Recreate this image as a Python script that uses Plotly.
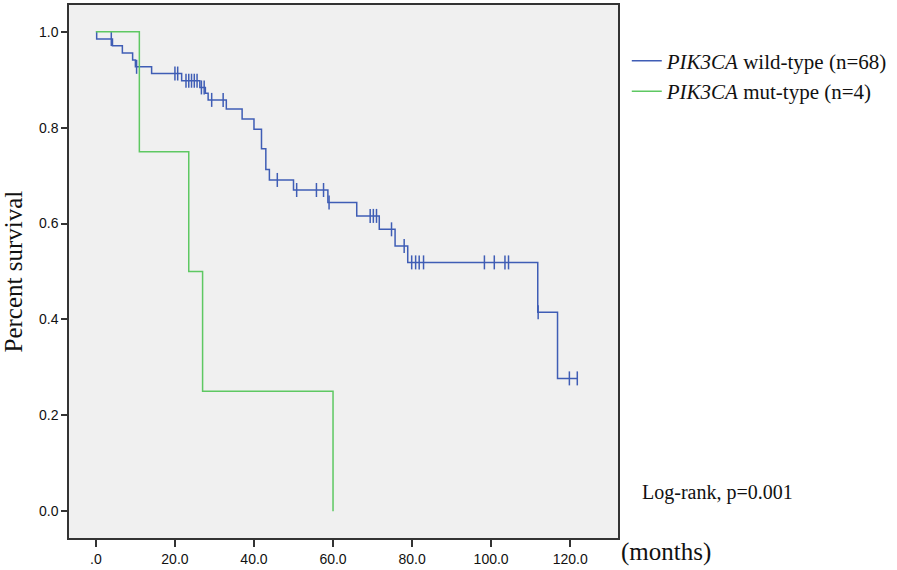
import plotly.graph_objects as go

# Wild-type (n=68): event times (months) and survival after each event
wt_event_times = [0.2, 4.2, 6.7, 9.3, 10.0, 14.1, 21.7, 26.3, 27.7, 28.4, 33.0, 37.0, 40.0,
                  41.9, 43.0, 43.9, 50.0, 58.7, 66.0, 71.7, 75.7, 78.9, 111.8, 116.8]
wt_surv = [0.985, 0.971, 0.956, 0.941, 0.927, 0.913, 0.898, 0.884, 0.872, 0.858, 0.839, 0.818,
           0.797, 0.756, 0.713, 0.691, 0.670, 0.644, 0.616, 0.588, 0.553, 0.519, 0.415, 0.277]
wt_censor_times = [3.9, 10.3, 20.0, 20.7, 22.8, 23.5, 24.2, 24.9, 25.6, 26.7, 27.4, 29.3, 32.2,
                   45.9, 50.8, 55.8, 57.6, 59.0, 69.4, 70.2, 71.0, 74.8, 78.0, 79.9, 80.9, 81.8,
                   82.9, 98.3, 100.8, 103.5, 104.4, 111.9, 119.8, 121.8]
wt_end = 121.8

# Mutant (n=4)
mut_event_times = [11.0, 23.5, 27.0, 60.0]
mut_surv = [0.75, 0.50, 0.25, 0.0]
mut_end = 60.0

x_tick_vals = [0, 20, 40, 60, 80, 100, 120]
x_tick_text = [".0", "20.0", "40.0", "60.0", "80.0", "100.0", "120.0"]
y_tick_vals = [0.0, 0.2, 0.4, 0.6, 0.8, 1.0]
y_tick_text = ["0.0", "0.2", "0.4", "0.6", "0.8", "1.0"]

BLUE = "#3f5db5"
GREEN = "#5ec862"


def step_xy(times, surv, end):
    xs, ys = [0.0], [1.0]
    prev = 1.0
    for t, s in zip(times, surv):
        xs += [t, t]
        ys += [prev, s]
        prev = s
    if end > xs[-1]:
        xs.append(end)
        ys.append(prev)
    return xs, ys


def surv_at(t, times, surv):
    s = 1.0
    for et, es in zip(times, surv):
        if et <= t:
            s = es
    return s


fig = go.Figure()
wx, wy = step_xy(wt_event_times, wt_surv, wt_end)
mx, my = step_xy(mut_event_times, mut_surv, mut_end)

fig.add_trace(go.Scatter(x=wx, y=wy, mode="lines", line=dict(color=BLUE, width=1.5),
                         name="<i>PIK3CA</i> wild-type (n=68)"))
fig.add_trace(go.Scatter(x=wt_censor_times,
                         y=[surv_at(t, wt_event_times, wt_surv) for t in wt_censor_times],
                         mode="markers", showlegend=False,
                         marker=dict(symbol="line-ns", size=10, line=dict(color=BLUE, width=1.5))))
fig.add_trace(go.Scatter(x=mx, y=my, mode="lines", line=dict(color=GREEN, width=1.5),
                         name="<i>PIK3CA</i> mut-type (n=4)"))

fig.update_layout(
    width=897, height=570,
    margin=dict(l=69, r=279, t=3, b=28),
    paper_bgcolor="white", plot_bgcolor="#f0f0f0",
    font=dict(family="Liberation Sans, Arial", size=13, color="#111"),
    legend=dict(x=1.016, y=0.933, xanchor="left", yanchor="top",
                font=dict(family="Liberation Serif, Times New Roman", size=21, color="#111"),
                bgcolor="rgba(0,0,0,0)"),
    xaxis=dict(range=[-6.8, 132.1], tickvals=x_tick_vals, ticktext=x_tick_text,
               showgrid=False, zeroline=False, showline=True, mirror=True,
               linecolor="#333", linewidth=1.5, ticks="outside", ticklen=7,
               tickcolor="#333", tickwidth=1.5,
               tickfont=dict(family="Liberation Sans, Arial", size=14, color="#111")),
    yaxis=dict(range=[-0.056, 1.056], tickvals=y_tick_vals, ticktext=y_tick_text,
               showgrid=False, zeroline=False, showline=True, mirror=True,
               linecolor="#333", linewidth=1.5, ticks="outside", ticklen=6,
               tickcolor="#333", tickwidth=1.5,
               tickfont=dict(family="Liberation Sans, Arial", size=14, color="#111")),
    annotations=[
        dict(text="Percent survival", xref="paper", yref="paper", x=-0.102, y=0.5,
             xanchor="center", yanchor="middle", textangle=-90, showarrow=False,
             font=dict(family="Liberation Serif, Times New Roman", size=25, color="#111")),
        dict(text="Log-rank, p=0.001", xref="paper", yref="paper", x=1.04, y=0.085,
             xanchor="left", yanchor="middle", showarrow=False,
             font=dict(family="Liberation Serif, Times New Roman", size=20, color="#111")),
        dict(text="(months)", xref="paper", yref="paper", x=1.002, y=-0.026,
             xanchor="left", yanchor="middle", showarrow=False,
             font=dict(family="Liberation Serif, Times New Roman", size=25, color="#111")),
    ],
)

fig.write_html("out.html", config={"displayModeBar": False},
               post_script="document.body.style.margin='0px';document.body.style.overflow='hidden';")
